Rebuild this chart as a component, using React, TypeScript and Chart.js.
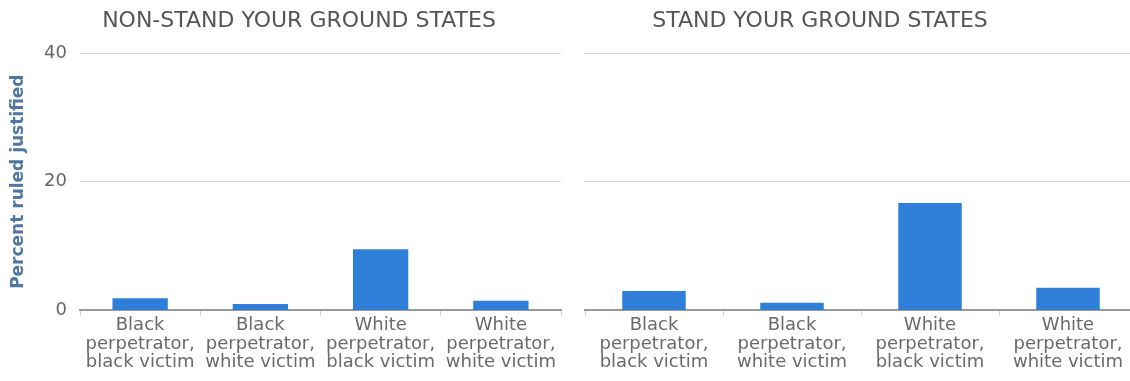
import React, { useEffect, useRef } from "react";
import { Chart, registerables } from "chart.js";

Chart.register(...registerables);

const categories: string[][] = [
  ["Black", "perpetrator,", "black victim"],
  ["Black", "perpetrator,", "white victim"],
  ["White", "perpetrator,", "black victim"],
  ["White", "perpetrator,", "white victim"],
];
const nonSygValues = [1.9, 1.0, 9.5, 1.5];
const sygValues = [3.0, 1.2, 16.7, 3.5];
const yTicks = [0, 20, 40];
const leftTitle = "NON-STAND YOUR GROUND STATES";
const rightTitle = "STAND YOUR GROUND STATES";
const yTitle = "Percent ruled justified";

const FONT = "'DejaVu Sans', sans-serif";
const BAR = "#2f7ed8";

function makeConfig(title: string, values: number[], showY: boolean, leftW: number, rightW: number): any {
  return {
    type: "bar",
    data: {
      labels: categories,
      datasets: [
        {
          data: values,
          backgroundColor: BAR,
          borderWidth: 0,
          barPercentage: 0.46,
          categoryPercentage: 1,
        },
      ],
    },
    options: {
      animation: false,
      responsive: false,
      maintainAspectRatio: false,
      layout: { padding: { left: 0, right: 0, top: 0, bottom: 8 } },
      plugins: {
        legend: { display: false },
        tooltip: { enabled: false },
        title: {
          display: true,
          text: title,
          color: "#555",
          font: { family: FONT, size: 22, weight: "normal", lineHeight: 1.2 },
          padding: { top: 8, bottom: 18.6 },
        },
      },
      scales: {
        x: {
          offset: true,
          grid: {
            offset: true,
            drawOnChartArea: false,
            drawTicks: true,
            tickLength: 5,
            color: "#cccccc",
          },
          border: { display: true, color: "#999999", width: 2 },
          ticks: {
            color: "#6a6a6a",
            font: { family: FONT, size: 18, lineHeight: 1.03 },
            padding: 1,
            maxRotation: 0,
            autoSkip: false,
          },
        },
        y: {
          min: 0,
          max: 40,
          afterBuildTicks: (scale: any) => {
            scale.ticks = yTicks.map((v) => ({ value: v }));
          },
          afterFit: (scale: any) => {
            scale.width = leftW;
          },
          grid: { color: "#d4d4d4", lineWidth: 1, drawTicks: false },
          border: { display: false },
          ticks: {
            display: showY,
            color: "#666",
            font: { family: FONT, size: 18 },
            padding: 13,
          },
          title: {
            display: showY,
            text: yTitle,
            color: "#4f77a1",
            font: { family: FONT, size: 17, weight: "bold" },
            padding: { top: 8, bottom: 0 },
          },
        },
        yPad: {
          position: "right",
          min: 0,
          max: 40,
          afterFit: (scale: any) => {
            scale.width = rightW;
          },
          grid: { display: false, drawTicks: false },
          border: { display: false },
          ticks: { display: false },
          title: { display: false },
        },
      },
    },
  };
}

function BarPanel(props: { title: string; values: number[]; showY: boolean; left: number; width: number; leftW: number; rightW: number }) {
  const ref = useRef<HTMLCanvasElement | null>(null);
  useEffect(() => {
    if (!ref.current) return;
    const chart = new Chart(ref.current, makeConfig(props.title, props.values, props.showY, props.leftW, props.rightW));
    return () => chart.destroy();
  }, []);
  return (
    <canvas
      ref={ref}
      width={props.width}
      height={381}
      style={{ position: "absolute", left: props.left, top: 0, width: props.width, height: 381 }}
    />
  );
}

export default function App() {
  return (
    <div
      style={{
        position: "absolute",
        left: 0,
        top: 0,
        width: 1130,
        height: 381,
        overflow: "hidden",
        background: "#fff",
      }}
    >
      <BarPanel title={leftTitle} values={nonSygValues} showY={true} left={0} width={598} leftW={80} rightW={37} />
      <BarPanel title={rightTitle} values={sygValues} showY={false} left={485} width={670} leftW={100} rightW={18} />
    </div>
  );
}
